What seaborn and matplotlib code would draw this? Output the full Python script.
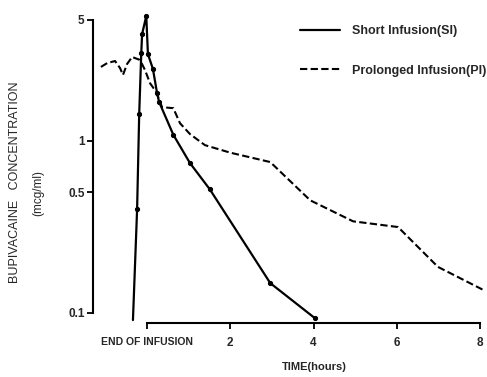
import matplotlib
matplotlib.use("Agg")
from matplotlib import pyplot as plt
from matplotlib.ticker import NullLocator, FixedLocator
import seaborn as sns
import numpy as np
import pandas as pd

# Short infusion (SI) - time in hours relative to end of infusion, conc in mcg/ml
si_time = [-0.34, -0.24, -0.19, -0.14, -0.12, -0.02, 0.02, 0.14, 0.24, 0.29,
           0.63, 1.03, 1.51, 2.96, 4.04]
si_conc = [0.091, 0.40, 1.42, 3.22, 4.14, 5.27, 3.17, 2.6, 1.88, 1.67,
           1.08, 0.74, 0.52, 0.149, 0.093]

# Prolonged infusion (PI)
pi_time = [-1.11, -0.96, -0.77, -0.65, -0.58, -0.48, -0.36, -0.17, -0.05, 0.07,
           0.22, 0.36, 0.63, 0.79, 1.03, 1.39, 2.00, 2.96, 3.92, 4.95,
           6.03, 6.99, 8.08]
pi_conc = [2.67, 2.81, 2.89, 2.63, 2.40, 2.78, 3.05, 2.93, 2.56, 2.15,
           1.91, 1.56, 1.54, 1.26, 1.09, 0.94, 0.85, 0.75, 0.45, 0.34,
           0.315, 0.185, 0.136]

x_ticks = [0, 2, 4, 6, 8]
x_ticklabels = ["END OF INFUSION", "2", "4", "6", "8"]
y_ticks = [0.1, 0.5, 1, 5]
y_ticklabels = ["0.1", "0.5", "1", "5"]

si = pd.DataFrame({"time": si_time, "conc": si_conc})
pi = pd.DataFrame({"time": pi_time, "conc": pi_conc})

sns.set_style("white")
plt.rcParams["font.family"] = ["Liberation Sans", "DejaVu Sans"]

fig = plt.figure(figsize=(4.87, 3.77), dpi=100)
ax = fig.add_axes([93 / 487, 54 / 377, 392 / 487, 313 / 377])

sns.lineplot(data=si, x="time", y="conc", color="black", lw=1.6,
             marker="o", markersize=3.0, markeredgecolor="black",
             markerfacecolor="black", markevery=list(range(1, len(si_time))),
             sort=False, estimator=None, ax=ax, label="Short Infusion(SI)")
sns.lineplot(data=pi, x="time", y="conc", color="black", lw=1.5,
             linestyle=(0, (3.5, 1.6)), sort=False, estimator=None, ax=ax,
             label="Prolonged Infusion(PI)")

ax.set_yscale("log")
ax.set_xlim(-1.30, 8.12)
ax.set_ylim(0.0875, 5.71)

ax.yaxis.set_major_locator(FixedLocator(y_ticks))
ax.yaxis.set_minor_locator(NullLocator())
ax.set_yticklabels(y_ticklabels, fontsize=8.5, fontweight="bold")
ax.set_xticks(x_ticks)
ax.set_xticklabels(x_ticklabels, fontsize=8.5, fontweight="bold")
ax.get_xticklabels()[0].set_fontsize(7.5)

for side in ["top", "right"]:
    ax.spines[side].set_visible(False)
ax.spines["left"].set_bounds(0.1, 5)
ax.spines["bottom"].set_bounds(0, 8)
for side in ["left", "bottom"]:
    ax.spines[side].set_color("black")
    ax.spines[side].set_linewidth(1.5)

ax.tick_params(axis="both", direction="out", length=4, width=1.3,
               color="black", bottom=True, left=True)
ax.tick_params(axis="y", pad=2)
ax.tick_params(axis="x", pad=6)

ax.set_xlabel("")
ax.set_ylabel("")
fig.text(314 / 487, 10 / 377, "TIME(hours)", ha="center", va="center",
         fontsize=8, fontweight="bold")
fig.text(15 / 487, 1 - 182 / 377, "BUPIVACAINE   CONCENTRATION", rotation=90,
         ha="center", va="center", fontsize=9)
fig.text(38 / 487, 1 - 193 / 377, "(mcg/ml)", rotation=90,
         ha="center", va="center", fontsize=8.5)

ax.legend(loc="upper left", bbox_to_anchor=(294 / 487, 1 - 19 / 377),
          bbox_transform=fig.transFigure, frameon=False, handlelength=3.2,
          handletextpad=0.9, labelspacing=2.2, borderpad=0,
          prop={"size": 9, "weight": "bold"})
for h in ax.get_legend().legend_handles:
    h.set_marker("")

fig.savefig("out.png", dpi=100)
